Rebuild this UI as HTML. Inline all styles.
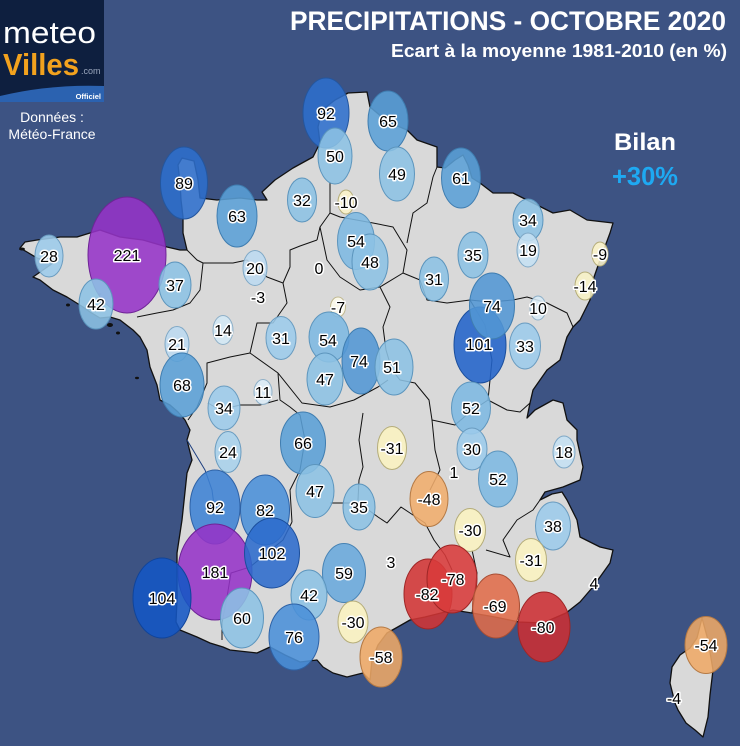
<!DOCTYPE html>
<html><head><meta charset="utf-8">
<style>
html,body{margin:0;padding:0;background:#3d5383;}
svg{display:block;}
</style></head>
<body>
<svg width="740" height="746" viewBox="0 0 740 746" xmlns="http://www.w3.org/2000/svg">
<rect x="0" y="0" width="740" height="746" fill="#3d5383"/>

<!-- Logo -->
<rect x="0" y="0" width="104" height="102" fill="#0e1f3f"/>
<path d="M0,96 Q50,84 104,86 L104,102 L0,102 Z" fill="#2b62b0"/>
<text x="3" y="43" font-family="Liberation Sans, sans-serif" font-size="31" fill="#ffffff" textLength="93" lengthAdjust="spacingAndGlyphs">meteo</text>
<text x="3" y="75" font-family="Liberation Sans, sans-serif" font-size="31" font-weight="bold" fill="#f2a21e" textLength="76" lengthAdjust="spacingAndGlyphs">Villes</text>
<text x="81" y="74" font-family="Liberation Sans, sans-serif" font-size="9" fill="#9aa6bd">.com</text>
<text x="101" y="99" font-family="Liberation Sans, sans-serif" font-size="7.5" font-weight="bold" fill="#ffffff" text-anchor="end">Officiel</text>
<text x="52" y="122" font-family="Liberation Sans, sans-serif" font-size="14" fill="#ffffff" text-anchor="middle">Données :</text>
<text x="52" y="139" font-family="Liberation Sans, sans-serif" font-size="14" fill="#ffffff" text-anchor="middle">Météo-France</text>

<!-- Titles -->
<text x="290" y="30" font-family="Liberation Sans, sans-serif" font-size="27" font-weight="bold" fill="#ffffff" textLength="436" lengthAdjust="spacingAndGlyphs">PRECIPITATIONS - OCTOBRE 2020</text>
<text x="391" y="57" font-family="Liberation Sans, sans-serif" font-size="18" font-weight="bold" fill="#ffffff" textLength="336" lengthAdjust="spacingAndGlyphs">Ecart à la moyenne 1981-2010 (en %)</text>
<text x="645" y="150" font-family="Liberation Sans, sans-serif" font-size="24" font-weight="bold" fill="#ffffff" text-anchor="middle" textLength="62" lengthAdjust="spacingAndGlyphs">Bilan</text>
<text x="645" y="185" font-family="Liberation Sans, sans-serif" font-size="26" font-weight="bold" fill="#1ea9f2" text-anchor="middle" textLength="66" lengthAdjust="spacingAndGlyphs">+30%</text>

<!-- France mainland -->
<path fill="#d9d9d9" stroke="#111" stroke-width="1.3" stroke-linejoin="round" d="
M348,93 L367,92 L370,107 L388,122 L407,130 L417,140 L437,147 L437,167 L445,168 L455,160 L463,155 L468,165 L472,178 L480,183 L493,193 L513,193 L533,203 L553,213 L570,210 L587,220 L613,223
L610,233 L600,260 L593,280 L590,300 L580,320 L573,327 L567,337 L560,360 L547,370 L533,390 L530,403 L527,418 L535,410 L553,400 L563,403 L567,420 L577,430 L577,440 L583,467 L580,480 L563,487 L545,492 L540,500 L552,494 L562,492 L567,500 L577,520 L580,537 L600,547 L613,550 L610,563 L600,577 L592,588 L580,602 L566,613 L543,623 L519,622 L495,617 L472,613 L453,610 L425,617 L410,620 L396,628 L387,633 L378,645 L372,660 L370,680
L363,673 L347,677 L333,673 L323,667 L317,660 L300,662 L285,655 L270,647 L257,653 L230,650 L223,647 L210,643 L197,637 L180,630 L176,622
L177,600 L177,553 L182,520 L187,473 L192,460 L187,440 L190,430 L185,420 L178,412 L170,405 L160,400 L157,385 L150,367 L147,350 L140,337 L133,330 L120,320 L110,317 L100,318 L90,312 L83,307 L67,297 L53,290 L40,280 L33,277 L43,270 L53,263 L37,258 L27,252 L20,248 L25,242 L37,240 L60,237 L77,237 L90,233 L100,230 L120,237 L143,240 L167,247 L180,250 L187,250
L183,233 L183,217 L181,200 L180,183 L178,165 L182,158 L194,161 L198,180 L200,198 L217,200 L240,198 L257,200 L267,200 L262,192 L275,180 L293,168 L313,157 L320,143 L318,127 L322,110 L335,100 Z"/>

<!-- Corsica -->
<path fill="#d9d9d9" stroke="#111" stroke-width="1.3" stroke-linejoin="round" d="M702,618 L708,640 L713,670 L710,695 L708,717 L703,737 L695,730 L686,723 L678,710 L675,703 L670,683 L672,667 L680,655 L690,648 L697,638 Z"/>

<!-- Small islands -->
<g fill="#111">
<ellipse cx="22" cy="249" rx="3" ry="1.5"/>
<ellipse cx="68" cy="305" rx="2" ry="1.5"/>
<ellipse cx="110" cy="325" rx="3" ry="2"/>
<ellipse cx="118" cy="333" rx="2" ry="1.5"/>
<ellipse cx="137" cy="378" rx="2" ry="1.2"/>
<ellipse cx="100" cy="294" rx="1.5" ry="1"/>
</g>

<!-- Region borders -->
<g fill="none" stroke="#111" stroke-width="1" stroke-linejoin="round">
<polyline points="187,250 197,260 203,263 200,290 190,303 173,310 157,313 137,317"/>
<polyline points="203,263 233,263 247,260 267,277 283,283 287,303 273,323 257,323 250,353 230,357 207,363 207,383 197,407 188,420"/>
<polyline points="283,283 290,267 290,250 300,246 317,240"/>
<polyline points="330,183 330,213 320,227 317,240"/>
<polyline points="320,227 327,260 340,277 360,290 380,287 403,273 407,250 393,227 373,223 340,217 330,213"/>
<polyline points="407,243 413,213 427,203 433,177 437,167"/>
<polyline points="403,273 420,280 427,300 447,303 470,300 490,302 513,300 527,297 547,303 567,313 573,327"/>
<polyline points="380,287 390,307 383,327 386,350 392,370 400,380 415,383 429,400 432,420 455,425 470,412 488,400 507,410 520,412 530,403"/>
<polyline points="470,300 485,325 492,360 488,400"/>
<polyline points="250,353 278,373 302,403 330,407 354,400 378,387 388,380"/>
<polyline points="278,373 280,400 290,407 300,415 305,440 300,470 290,490 292,522"/>
<polyline points="208,403 220,410 240,405 260,405 278,400"/>
<polyline points="363,413 359,440 363,467 359,480 358,500"/>
<polyline points="330,503 359,503 378,517 387,523 401,507 410,513 425,523 434,540 445,555 452,570"/>
<polyline points="432,420 435,450 440,470 430,490"/>
<polyline points="292,522 283,540 250,567 231,573 227,597 222,623 222,640"/>
<polyline points="472,550 477,573 474,600 472,613"/>
<polyline points="486,550 510,557 503,540 517,520 533,510 540,500"/>
<polyline points="187,440 196,455 205,470 212,490 214,505" stroke="#1d3f80"/>
</g>

<!-- Circles -->
<g stroke-width="1" fill-opacity="0.88">
<ellipse cx="326" cy="113" rx="23" ry="35" fill="#2e6ecc" stroke="#24569e"/>
<ellipse cx="388" cy="121" rx="20" ry="30" fill="#5a9fd6" stroke="#3f7db0"/>
<ellipse cx="335" cy="156" rx="17" ry="28" fill="#8cc1e4" stroke="#5c95bd"/>
<ellipse cx="397" cy="174" rx="17.5" ry="27" fill="#8cc1e4" stroke="#5c95bd"/>
<ellipse cx="461" cy="178" rx="19.5" ry="30" fill="#5a9fd6" stroke="#3f7db0"/>
<ellipse cx="302" cy="200" rx="14.5" ry="22" fill="#8cc1e4" stroke="#5c95bd"/>
<ellipse cx="346" cy="202" rx="8" ry="12" fill="#fbf3c8" stroke="#b5ad7a"/>
<ellipse cx="528" cy="220" rx="15" ry="21" fill="#8cc1e4" stroke="#5c95bd"/>
<ellipse cx="528" cy="250" rx="11" ry="17" fill="#c5e0f2" stroke="#7fa8c6"/>
<ellipse cx="356" cy="241" rx="18.5" ry="28.5" fill="#7db8e1" stroke="#5c95bd"/>
<ellipse cx="370" cy="262" rx="18" ry="28" fill="#8cc1e4" stroke="#5c95bd"/>
<ellipse cx="473" cy="255" rx="15" ry="23" fill="#8cc1e4" stroke="#5c95bd"/>
<ellipse cx="434" cy="279" rx="14.5" ry="22" fill="#8cc1e4" stroke="#5c95bd"/>
<ellipse cx="600" cy="254" rx="8" ry="12" fill="#fbf3c8" stroke="#b5ad7a"/>
<ellipse cx="585" cy="286" rx="10" ry="14" fill="#f8f2c6" stroke="#b5ad7a"/>
<ellipse cx="480" cy="345" rx="26" ry="38" fill="#2263c9" stroke="#1b4e9c"/>
<ellipse cx="492" cy="306" rx="22.5" ry="33" fill="#5296d4" stroke="#3f7db0"/>
<ellipse cx="538" cy="308" rx="8" ry="12" fill="#d8eaf6" stroke="#8fb0c8"/>
<ellipse cx="525" cy="346" rx="15.5" ry="23" fill="#9ccbea" stroke="#6a9cc0"/>
<ellipse cx="255" cy="268" rx="12" ry="17.5" fill="#bcdaf0" stroke="#7fa8c6"/>
<ellipse cx="184" cy="183" rx="23.5" ry="36" fill="#2e6ecc" stroke="#24569e"/>
<ellipse cx="237" cy="216" rx="20" ry="31" fill="#5a9fd6" stroke="#3f7db0"/>
<ellipse cx="127" cy="255" rx="39" ry="58" fill="#9533c7" stroke="#6e2496"/>
<ellipse cx="49" cy="256" rx="14" ry="21" fill="#9ccbea" stroke="#6a9cc0"/>
<ellipse cx="96" cy="304" rx="17" ry="25" fill="#8cc1e4" stroke="#5c95bd"/>
<ellipse cx="175" cy="285" rx="16" ry="23" fill="#8cc1e4" stroke="#5c95bd"/>
<ellipse cx="223" cy="330" rx="10" ry="14.5" fill="#d3e8f5" stroke="#8fb0c8"/>
<ellipse cx="281" cy="338" rx="15" ry="21.5" fill="#9ccbea" stroke="#6a9cc0"/>
<ellipse cx="177" cy="344" rx="12" ry="17.5" fill="#bcdaf0" stroke="#7fa8c6"/>
<ellipse cx="182" cy="385" rx="22" ry="32" fill="#5a9fd6" stroke="#3f7db0"/>
<ellipse cx="263" cy="392" rx="9" ry="12.5" fill="#dcecf7" stroke="#8fb0c8"/>
<ellipse cx="224" cy="408" rx="16" ry="22" fill="#9ccbea" stroke="#6a9cc0"/>
<ellipse cx="228" cy="452" rx="13" ry="20.5" fill="#a8d1ec" stroke="#6a9cc0"/>
<ellipse cx="338" cy="307" rx="7.5" ry="10" fill="#fdfbea" stroke="#c0b890"/>
<ellipse cx="329" cy="337" rx="20" ry="25" fill="#7db8e1" stroke="#5c95bd"/>
<ellipse cx="361" cy="361" rx="19" ry="33" fill="#5296d4" stroke="#3f7db0"/>
<ellipse cx="394" cy="367" rx="19" ry="28" fill="#8cc1e4" stroke="#5c95bd"/>
<ellipse cx="325" cy="379" rx="18" ry="26" fill="#8cc1e4" stroke="#5c95bd"/>
<ellipse cx="471" cy="408" rx="19.5" ry="26" fill="#7db8e1" stroke="#5c95bd"/>
<ellipse cx="472" cy="449" rx="15" ry="21" fill="#9ccbea" stroke="#6a9cc0"/>
<ellipse cx="498" cy="479" rx="19.5" ry="28" fill="#7db8e1" stroke="#5c95bd"/>
<ellipse cx="564" cy="452" rx="11" ry="16" fill="#c5e0f2" stroke="#7fa8c6"/>
<ellipse cx="553" cy="526" rx="17.5" ry="24" fill="#9ccbea" stroke="#6a9cc0"/>
<ellipse cx="470" cy="530" rx="15.5" ry="21.5" fill="#fbf3c0" stroke="#b5ad7a"/>
<ellipse cx="531" cy="560" rx="15.5" ry="21.5" fill="#fbf3c0" stroke="#b5ad7a"/>
<ellipse cx="429" cy="499" rx="19" ry="27.5" fill="#f0ad6c" stroke="#b57a45"/>
<ellipse cx="392" cy="448" rx="14.5" ry="21.5" fill="#fbf3c0" stroke="#b5ad7a"/>
<ellipse cx="303" cy="443" rx="22.5" ry="31" fill="#5a9fd6" stroke="#3f7db0"/>
<ellipse cx="315" cy="491" rx="19" ry="26.5" fill="#8cc1e4" stroke="#5c95bd"/>
<ellipse cx="359" cy="507" rx="16" ry="23" fill="#8cc1e4" stroke="#5c95bd"/>
<ellipse cx="215" cy="507" rx="25" ry="37" fill="#3e82d4" stroke="#2e62a6"/>
<ellipse cx="265" cy="510" rx="24.5" ry="35" fill="#4a8fd8" stroke="#2e62a6"/>
<ellipse cx="215" cy="572" rx="37" ry="48" fill="#9533c7" stroke="#6e2496"/>
<ellipse cx="272" cy="553" rx="27.5" ry="35" fill="#2c6bcc" stroke="#1b4e9c"/>
<ellipse cx="162" cy="598" rx="29" ry="40" fill="#1556c4" stroke="#10449a"/>
<ellipse cx="242" cy="618" rx="21.5" ry="30" fill="#8cc1e4" stroke="#5c95bd"/>
<ellipse cx="344" cy="573" rx="21.5" ry="29.5" fill="#69a9dc" stroke="#4682b4"/>
<ellipse cx="309" cy="595" rx="18" ry="25" fill="#8cc1e4" stroke="#5c95bd"/>
<ellipse cx="294" cy="637" rx="25" ry="33" fill="#4a8fd8" stroke="#2e62a6"/>
<ellipse cx="353" cy="622" rx="15" ry="21" fill="#fbf3c0" stroke="#b5ad7a"/>
<ellipse cx="381" cy="657" rx="21" ry="30" fill="#eea866" stroke="#b57a45"/>
<ellipse cx="428" cy="594" rx="24" ry="35" fill="#d23434" stroke="#9e2626"/>
<ellipse cx="452" cy="579" rx="25" ry="34" fill="#d83a3a" stroke="#9e2626"/>
<ellipse cx="496" cy="606" rx="23.5" ry="32" fill="#e06c4a" stroke="#a84e34"/>
<ellipse cx="544" cy="627" rx="26" ry="35" fill="#cc2f33" stroke="#9e2626"/>
<ellipse cx="706" cy="645" rx="21" ry="28.5" fill="#eea866" stroke="#b57a45"/>
</g>

<!-- Labels -->
<g font-family="Liberation Sans, sans-serif" font-size="16" fill="#000" stroke="#fff" stroke-width="3" stroke-linejoin="round" paint-order="stroke" text-anchor="middle">
<text x="326" y="119">92</text>
<text x="388" y="127">65</text>
<text x="335" y="162">50</text>
<text x="397" y="180">49</text>
<text x="461" y="184">61</text>
<text x="302" y="206">32</text>
<text x="346" y="208">-10</text>
<text x="528" y="226">34</text>
<text x="528" y="256">19</text>
<text x="356" y="247">54</text>
<text x="370" y="268">48</text>
<text x="473" y="261">35</text>
<text x="434" y="285">31</text>
<text x="600" y="260">-9</text>
<text x="585" y="292">-14</text>
<text x="479" y="350">101</text>
<text x="492" y="312">74</text>
<text x="538" y="314">10</text>
<text x="525" y="352">33</text>
<text x="255" y="274">20</text>
<text x="319" y="274">0</text>
<text x="258" y="303">-3</text>
<text x="184" y="189">89</text>
<text x="237" y="222">63</text>
<text x="127" y="261">221</text>
<text x="49" y="262">28</text>
<text x="96" y="310">42</text>
<text x="175" y="291">37</text>
<text x="223" y="336">14</text>
<text x="281" y="344">31</text>
<text x="177" y="350">21</text>
<text x="182" y="391">68</text>
<text x="263" y="398">11</text>
<text x="224" y="414">34</text>
<text x="228" y="458">24</text>
<text x="338" y="313">-7</text>
<text x="328" y="346">54</text>
<text x="359" y="367">74</text>
<text x="392" y="373">51</text>
<text x="325" y="385">47</text>
<text x="471" y="414">52</text>
<text x="472" y="455">30</text>
<text x="498" y="485">52</text>
<text x="564" y="458">18</text>
<text x="553" y="532">38</text>
<text x="470" y="536">-30</text>
<text x="531" y="566">-31</text>
<text x="454" y="478">1</text>
<text x="429" y="505">-48</text>
<text x="392" y="454">-31</text>
<text x="303" y="449">66</text>
<text x="315" y="497">47</text>
<text x="359" y="513">35</text>
<text x="215" y="513">92</text>
<text x="265" y="516">82</text>
<text x="215" y="578">181</text>
<text x="272" y="559">102</text>
<text x="162" y="604">104</text>
<text x="242" y="624">60</text>
<text x="344" y="579">59</text>
<text x="309" y="601">42</text>
<text x="294" y="643">76</text>
<text x="353" y="628">-30</text>
<text x="381" y="663">-58</text>
<text x="391" y="568">3</text>
<text x="427" y="600">-82</text>
<text x="453" y="585">-78</text>
<text x="495" y="612">-69</text>
<text x="543" y="633">-80</text>
<text x="594" y="589">4</text>
<text x="706" y="651">-54</text>
<text x="674" y="704">-4</text>
</g>
</svg>
</body></html>
